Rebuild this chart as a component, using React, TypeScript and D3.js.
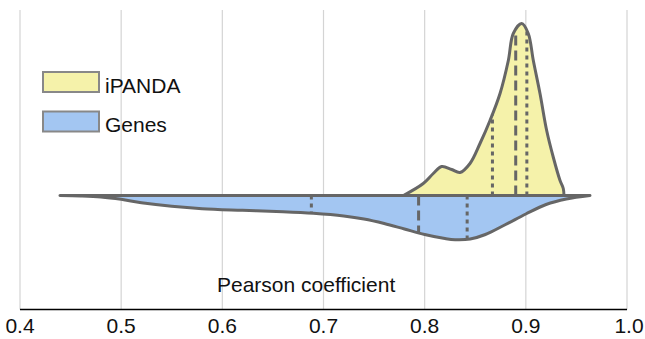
import React, { useEffect } from 'react'
import * as d3 from 'd3'

// iPANDA half (upper), density
const ipandaX = [0.779, 0.7986, 0.8085, 0.8168, 0.8267, 0.8349, 0.8448, 0.8547, 0.8646, 0.8745, 0.8827, 0.8876, 0.8959, 0.9024, 0.9074, 0.914, 0.9206, 0.9272, 0.9338, 0.937, 0.9377]
const ipandaD = [0, 1.2, 2.2, 2.9, 2.6, 2.3, 3.2, 5.2, 7.5, 10.2, 13.5, 16.2, 17.2, 16.2, 13.5, 10.2, 6.5, 3.8, 1.5, 0.7, 0]
const ipandaQuart = [0.867, 0.89, 0.901]

// Genes half (lower)
const genesX = [0.4395, 0.46, 0.48, 0.5, 0.52, 0.55, 0.58, 0.62, 0.66, 0.69, 0.72, 0.74, 0.76, 0.78, 0.8, 0.82, 0.83, 0.845, 0.86, 0.88, 0.9, 0.92, 0.94, 0.9634]
const genesD = [0, 0.04, 0.14, 0.38, 0.72, 1.08, 1.32, 1.48, 1.62, 1.78, 2.05, 2.35, 2.8, 3.35, 3.9, 4.3, 4.42, 4.35, 3.9, 2.9, 1.85, 0.9, 0.35, 0]
const genesQuart = [0.688, 0.794, 0.842]

const xTicks = [0.4, 0.5, 0.6, 0.7, 0.8, 0.9, 1.0]
const legendLabels = ['iPANDA', 'Genes']
const colors = ['#f5f2aa', '#a3c6f2']

const font = 'Liberation Sans, Arial, Helvetica, sans-serif'

const App = () => {
    useEffect(() => {
        document.body.style.margin = '0'
    }, [])

    const width = 645
    const height = 339
    const baseY = 195.5
    const axisY = 309.5

    const x = d3.scaleLinear().domain([0.4, 1.0]).range([20, 627])
    const h = d3.scaleLinear().domain([0, 17.2]).range([0, 172])

    const up = ipandaX.map((v, i) => ({ v, d: ipandaD[i] }))
    const down = genesX.map((v, i) => ({ v, d: genesD[i] }))

    const upArea = d3.area<any>()
        .x(p => x(p.v)).y0(baseY).y1(p => baseY - h(p.d))
        .curve(d3.curveCatmullRom.alpha(0.5))
    const downArea = d3.area<any>()
        .x(p => x(p.v)).y0(baseY).y1(p => baseY + h(p.d))
        .curve(d3.curveCatmullRom.alpha(0.5))

    const dAt = (xs, ds, v) => {
        const i = d3.bisectRight(xs, v) - 1
        const t = (v - xs[i]) / (xs[i + 1] - xs[i])
        return ds[i] + t * (ds[i + 1] - ds[i])
    }

    const quartLine = (xs, ds, q, dir) =>
        q.map((v, i) => (
            <line key={i} x1={x(v)} x2={x(v)} y1={baseY} y2={baseY + dir * h(dAt(xs, ds, v))}
                stroke="#666" strokeWidth={3}
                strokeDasharray={i === 1 ? '10 5' : '4 4'} />
        ))

    return (
        <svg width={width} height={height} style={{ display: 'block', position: 'absolute', left: 0, top: 0 }}>
            <rect width={width} height={height} fill="#fff" />
            {xTicks.map(t => (
                <line key={t} x1={x(t)} x2={x(t)} y1={10} y2={axisY} stroke="#d4d4d4" strokeWidth={1.2} />
            ))}
            <line x1={x(0.4)} x2={x(1.0)} y1={axisY} y2={axisY} stroke="#000" strokeWidth={1.5} />
            {xTicks.map(t => (
                <text key={t} x={x(t) + (t === 1 ? 2 : 0)} y={333} textAnchor="middle" fontFamily={font} fontSize={21} fill="#111">
                    {d3.format('.1f')(t)}
                </text>
            ))}

            <path d={downArea(down)} fill={colors[1]} />
            <path d={upArea(up)} fill={colors[0]} />
            {quartLine(genesX, genesD, genesQuart, 1)}
            {quartLine(ipandaX, ipandaD, ipandaQuart, -1)}
            <path d={downArea(down)} fill="none" stroke="#666" strokeWidth={3} strokeLinejoin="round" strokeLinecap="round" />
            <path d={upArea(up)} fill="none" stroke="#666" strokeWidth={3} strokeLinejoin="round" strokeLinecap="round" />

            {legendLabels.map((lab, i) => (
                <g key={lab} transform={`translate(43, ${72 + i * 39.5})`}>
                    <rect width={56} height={20} fill={colors[i]} stroke="#888" strokeWidth={2} />
                    <text x={62} y={20.5} fontFamily={font} fontSize={21} fill="#111">{lab}</text>
                </g>
            ))}

            <text x={217} y={292} fontFamily={font} fontSize={21} fill="#111">Pearson coefficient</text>
        </svg>
    )
}

export default App
